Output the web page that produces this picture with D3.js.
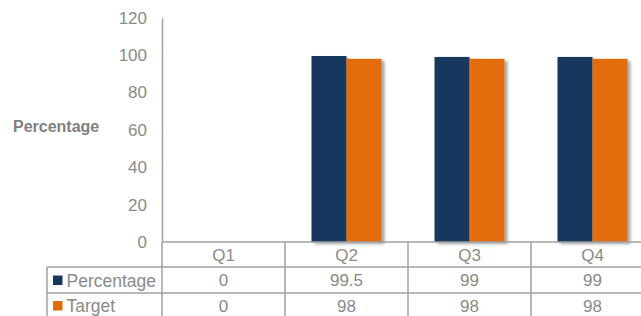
<!DOCTYPE html>
<html>
<head>
  <meta charset="utf-8">
  <script src="https://d3js.org/d3.v7.min.js"></script>
  <style>
    body { margin: 0; background: #fff; }
    text { font-family: "Liberation Sans", Arial, sans-serif; fill: #8a8a8a; }
  </style>
</head>
<body>
  <script type="text/javascript">
    // chart values
    var quarters = ["Q1", "Q2", "Q3", "Q4"];
    var percentage = [0, 99.5, 99, 99];
    var target = [0, 98, 98, 98];
    var seriesNames = ["Percentage", "Target"];
    var seriesColors = ["#17375E", "#E36C0A"];
    var yTicks = [0, 20, 40, 60, 80, 100, 120];

    var width = 641, height = 316;
    var left = 162, zeroY = 242, topY = 17.7;
    var colW = 123;

    var svg = d3.select("body")
      .append("svg")
      .attr("width", width)
      .attr("height", height);

    // drop shadow behind bars
    var defs = svg.append("defs");
    var f = defs.append("filter").attr("id", "shadow")
      .attr("x", "-20%").attr("y", "-10%").attr("width", "150%").attr("height", "130%");
    f.append("feDropShadow")
      .attr("dx", 3).attr("dy", 2).attr("stdDeviation", 1.8)
      .attr("flood-color", "#000").attr("flood-opacity", 0.35);

    var x = d3.scaleBand().domain(quarters).range([left, left + colW * quarters.length]);
    var xSub = d3.scaleBand().domain(seriesNames).range([0, x.bandwidth()])
      .paddingInner(0).paddingOuter(0.757);
    var y = d3.scaleLinear().domain([0, 120]).range([zeroY, topY]);

    // y axis
    var yAxis = svg.append("g")
      .attr("transform", "translate(" + left + ",0)")
      .call(d3.axisLeft(y).tickValues(yTicks).tickSize(0).tickPadding(15));
    yAxis.select(".domain").attr("stroke", "#a0a0a0").attr("stroke-width", 1.5);
    yAxis.selectAll("text")
      .style("font-size", "17px")
      .style("fill", "#8a8a8a")
      .style("font-family", "Liberation Sans, Arial, sans-serif");

    // axis title
    svg.append("text")
      .attr("x", 13)
      .attr("y", 126)
      .attr("dy", "0.35em")
      .style("font-size", "16px")
      .style("font-weight", "bold")
      .style("fill", "#7f7f7f")
      .text("Percentage");

    // bars
    var rows = [percentage, target];
    rows.forEach(function (vals, si) {
      svg.append("g")
        .attr("filter", "url(#shadow)")
        .selectAll("rect")
        .data(vals)
        .enter()
        .append("rect")
        .attr("x", function (d, i) { return x(quarters[i]) + xSub(seriesNames[si]); })
        .attr("width", xSub.bandwidth())
        .attr("y", function (d) { return y(d); })
        .attr("height", function (d) { return zeroY - y(d); })
        .attr("fill", seriesColors[si]);
    });

    // data table
    var rowTops = [zeroY, 267, 293, 319];
    var legendLeft = 47;
    var grid = svg.append("g")
      .attr("stroke", "#a0a0a0")
      .attr("stroke-width", 1.5);

    // horizontal lines
    grid.append("line").attr("x1", left).attr("x2", width).attr("y1", rowTops[0]).attr("y2", rowTops[0]);
    [rowTops[1], rowTops[2]].forEach(function (ry) {
      grid.append("line").attr("x1", legendLeft).attr("x2", width).attr("y1", ry).attr("y2", ry);
    });
    // vertical lines
    quarters.forEach(function (q) {
      grid.append("line").attr("x1", x(q)).attr("x2", x(q)).attr("y1", rowTops[0]).attr("y2", height);
    });
    grid.append("line").attr("x1", legendLeft).attr("x2", legendLeft).attr("y1", rowTops[1]).attr("y2", height);

    // header labels
    svg.append("g").selectAll("text")
      .data(quarters)
      .enter()
      .append("text")
      .attr("x", function (d) { return x(d) + x.bandwidth() / 2; })
      .attr("y", 255)
      .attr("dy", "0.35em")
      .attr("text-anchor", "middle")
      .style("font-size", "17px")
      .text(function (d) { return d; });

    // series rows
    var rowMid = [280.5, 306];
    rows.forEach(function (vals, si) {
      svg.append("rect")
        .attr("x", 53)
        .attr("y", rowMid[si] - 5)
        .attr("width", 9.5)
        .attr("height", 9.5)
        .attr("fill", seriesColors[si]);
      svg.append("text")
        .attr("x", 66.5)
        .attr("y", rowMid[si])
        .attr("dy", "0.35em")
        .style("font-size", "17.5px")
        .text(seriesNames[si]);
      svg.append("g").selectAll("text")
        .data(vals)
        .enter()
        .append("text")
        .attr("x", function (d, i) { return x(quarters[i]) + x.bandwidth() / 2; })
        .attr("y", rowMid[si])
        .attr("dy", "0.35em")
        .attr("text-anchor", "middle")
        .style("font-size", "17px")
        .text(function (d) { return d; });
    });
  </script>
</body>
</html>
